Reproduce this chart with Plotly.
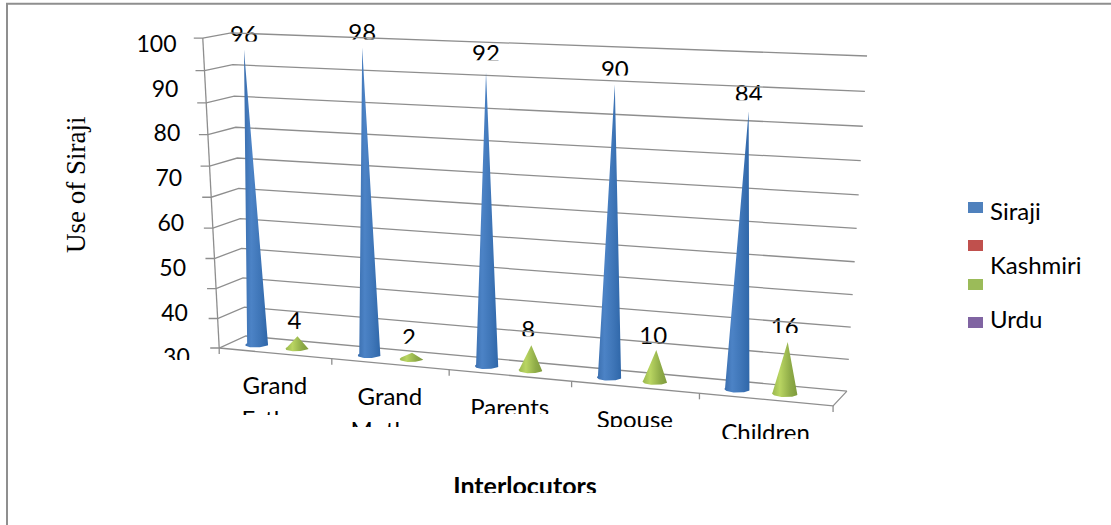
import numpy as np
import plotly.graph_objects as go

# ---- chart content ----
categories = ["Grand Father", "Grand Mother", "Parents", "Spouse", "Children"]
siraji = [96, 98, 92, 90, 84]
kashmiri = [4, 2, 8, 10, 16]
value_ticks = [100, 90, 80, 70, 60, 50, 40, 30]
legend_names = ["Siraji", "", "Kashmiri", "Urdu"]
legend_colors = ["#4f81bd", "#c0504d", "#9bbb59", "#8064a2"]
axis_min, axis_max, axis_step = 0, 100, 10

FONT = "Lato"
GRID = "#8e8e8e"
TEXT_SIZE = 24
TEXT_DROP = 3  # Lato's line box sits high, so text is nudged down to centre its digits

# ---- camera: 3D box (category, value, depth) fitted to its screen corners ----
box = [(0, 0, 0), (0, 100, 0), (0, 0, 1), (0, 100, 1), (5, 0, 0), (5, 0, 1), (5, 100, 1)]
screen = [(220, 348), (202, 38), (245, 336), (232, 33), (833, 406), (847, 391), (867, 56)]

rows = []
for (a, b, c), (u, v) in zip(box, screen):
    rows.append([a, b, c, 1, 0, 0, 0, 0, -u * a, -u * b, -u * c, -u])
    rows.append([0, 0, 0, 0, a, b, c, 1, -v * a, -v * b, -v * c, -v])
P = np.linalg.svd(np.array(rows, float))[2][-1].reshape(3, 4)


def project(a, b, c):
    h = P @ np.array([a, b, c, 1.0])
    return h[0] / h[2], h[1] / h[2]


def line(points, width=1.3, color=GRID):
    return go.Scatter(x=[p[0] for p in points], y=[p[1] for p in points], mode="lines",
                      line=dict(color=color, width=width), hoverinfo="skip", showlegend=False)


def mask(x0, x1, y0, y1):
    return go.Scatter(x=[x0, x1, x1, x0, x0], y=[y0, y0, y1, y1, y0], mode="lines", fill="toself",
                      fillcolor="white", line=dict(width=0, color="white"),
                      hoverinfo="skip", showlegend=False)


def label(x, y, text, size=TEXT_SIZE, family=FONT, weight="normal", anchor="middle center"):
    return go.Scatter(x=[x], y=[y + TEXT_DROP], mode="text", text=[text], textposition=anchor,
                      textfont=dict(family=family, size=size, color="black", weight=weight),
                      hoverinfo="skip", showlegend=False)


def cone(center, depth, value, colorscale, rx=0.095, rz=0.25):
    angles = np.linspace(0, np.pi, 31)
    arc = [project(center + rx * np.cos(t), 0, depth - rz * np.sin(t)) for t in angles]
    tip = project(center, value, depth)
    xs = [tip[0]] + [p[0] for p in arc] + [tip[0]]
    ys = [tip[1]] + [p[1] for p in arc] + [tip[1]]
    return go.Scatter(x=xs, y=ys, mode="lines", fill="toself", line=dict(width=0),
                      fillgradient=dict(type="horizontal", colorscale=colorscale,
                                        start=min(xs), stop=max(xs)),
                      hoverinfo="skip", showlegend=False)


BLUE = [[0, "#3a6eae"], [0.3, "#4c83c6"], [0.65, "#3f76b8"], [1, "#2e66a8"]]
GREEN = [[0, "#9ab84e"], [0.3, "#b9d562"], [0.7, "#8fac48"], [1, "#7e9a3c"]]
slot_offset = [0.227, 0.41, 0.59, 0.77]
n = len(categories)
values = np.arange(axis_min, axis_max + axis_step, axis_step)

# How far each value label floats above its tip, and where the white band trims it
blue_lift = [15, 15, 19, 16, 18]
green_lift = [16, 16, 16, 15, 16]
green_trim = [9, 7, 7, 9, 7]

fig = go.Figure()

# Texts first, each clipped from below by a white band, with the frame lines on top.
for i, v in enumerate(siraji):
    tx, ty = project(i + slot_offset[0], v, 0.5)
    cy = ty - blue_lift[i]
    fig.add_trace(label(tx, cy, str(v)))
    fig.add_trace(mask(tx - 22, tx + 22, cy + 7, cy + 11))
for i, v in enumerate(kashmiri):
    tx, ty = project(i + slot_offset[2], v, 0.5)
    cy = ty - green_lift[i]
    fig.add_trace(label(tx - 3, cy, str(v)))
    fig.add_trace(mask(tx - 25, tx + 19, cy + green_trim[i], cy + 11))

category_trim = [415, 427, 414, 427, 439]
for i, cat in enumerate(categories):
    fx, fy = project(i + 0.5, 0, 0)
    words = cat.split(" ")
    fig.add_trace(label(fx, fy + 32, words[0]))
    if len(words) > 1:
        fig.add_trace(label(fx, fy + 66, words[1]))
    fig.add_trace(mask(fx - 55, fx + 55, category_trim[i], category_trim[i] + 32))

for i, t in enumerate(value_ticks):
    fig.add_trace(label(176.5 + i * 1.9, 43 + i * 44.8, str(t), size=23, anchor="middle left"))
fig.add_trace(mask(150, 200, 360, 372))

fig.add_trace(label(525, 486, "Interlocutors", size=25, weight="bold"))
fig.add_trace(mask(430, 620, 493, 510))

# Walls and floor
for v in values:
    front = project(0, v, 0)
    back_l = project(0, v, 1)
    back_r = project(n, v, 1)
    tick = (front[0] - 9, front[1])
    fig.add_trace(line([tick, front, back_l, back_r]))
fig.add_trace(line([project(0, axis_min, 0), project(0, axis_max, 0)]))
fig.add_trace(line([project(0, 0, 0), project(n, 0, 0), project(n, 0, 1)]))
for i in range(n + 1):
    base = project(i, 0, 0)
    fig.add_trace(line([base, (base[0], base[1] + 6)]))

# Cones
for i in range(n):
    fig.add_trace(cone(i + slot_offset[0], 0.5, siraji[i], BLUE))
    fig.add_trace(cone(i + slot_offset[2], 0.5, kashmiri[i], GREEN))

# Page frame: top and left rules only
fig.add_trace(line([(7, 525), (7, 3.8), (1111, 3.8)], width=2, color="#8f8f8f"))

# Legend
key_y = [207.5, 245.5, 284.5, 322.5]
text_y = [211, 265, 319]
for y, col in zip(key_y, legend_colors):
    fig.add_shape(type="rect", xref="x", yref="y", x0=968, x1=983, y0=y - 5.5, y1=y + 5.5,
                  fillcolor=col, line=dict(width=0), layer="above")
for y, name in zip(text_y, [nm for nm in legend_names if nm]):
    fig.add_trace(label(990, y, name, anchor="middle right"))

fig.add_annotation(x=76, y=185, xref="x", yref="y", text="Use of Siraji", textangle=-90, showarrow=False,
                   font=dict(family="Liberation Serif", size=27, color="black"))

fig.update_layout(width=1111, height=525, margin=dict(l=0, r=0, t=0, b=0), plot_bgcolor="white",
                  paper_bgcolor="white", showlegend=False,
                  xaxis=dict(range=[0, 1111], visible=False, fixedrange=True),
                  yaxis=dict(range=[525, 0], visible=False, fixedrange=True))
fig.write_html("out.html", config=dict(displayModeBar=False))
